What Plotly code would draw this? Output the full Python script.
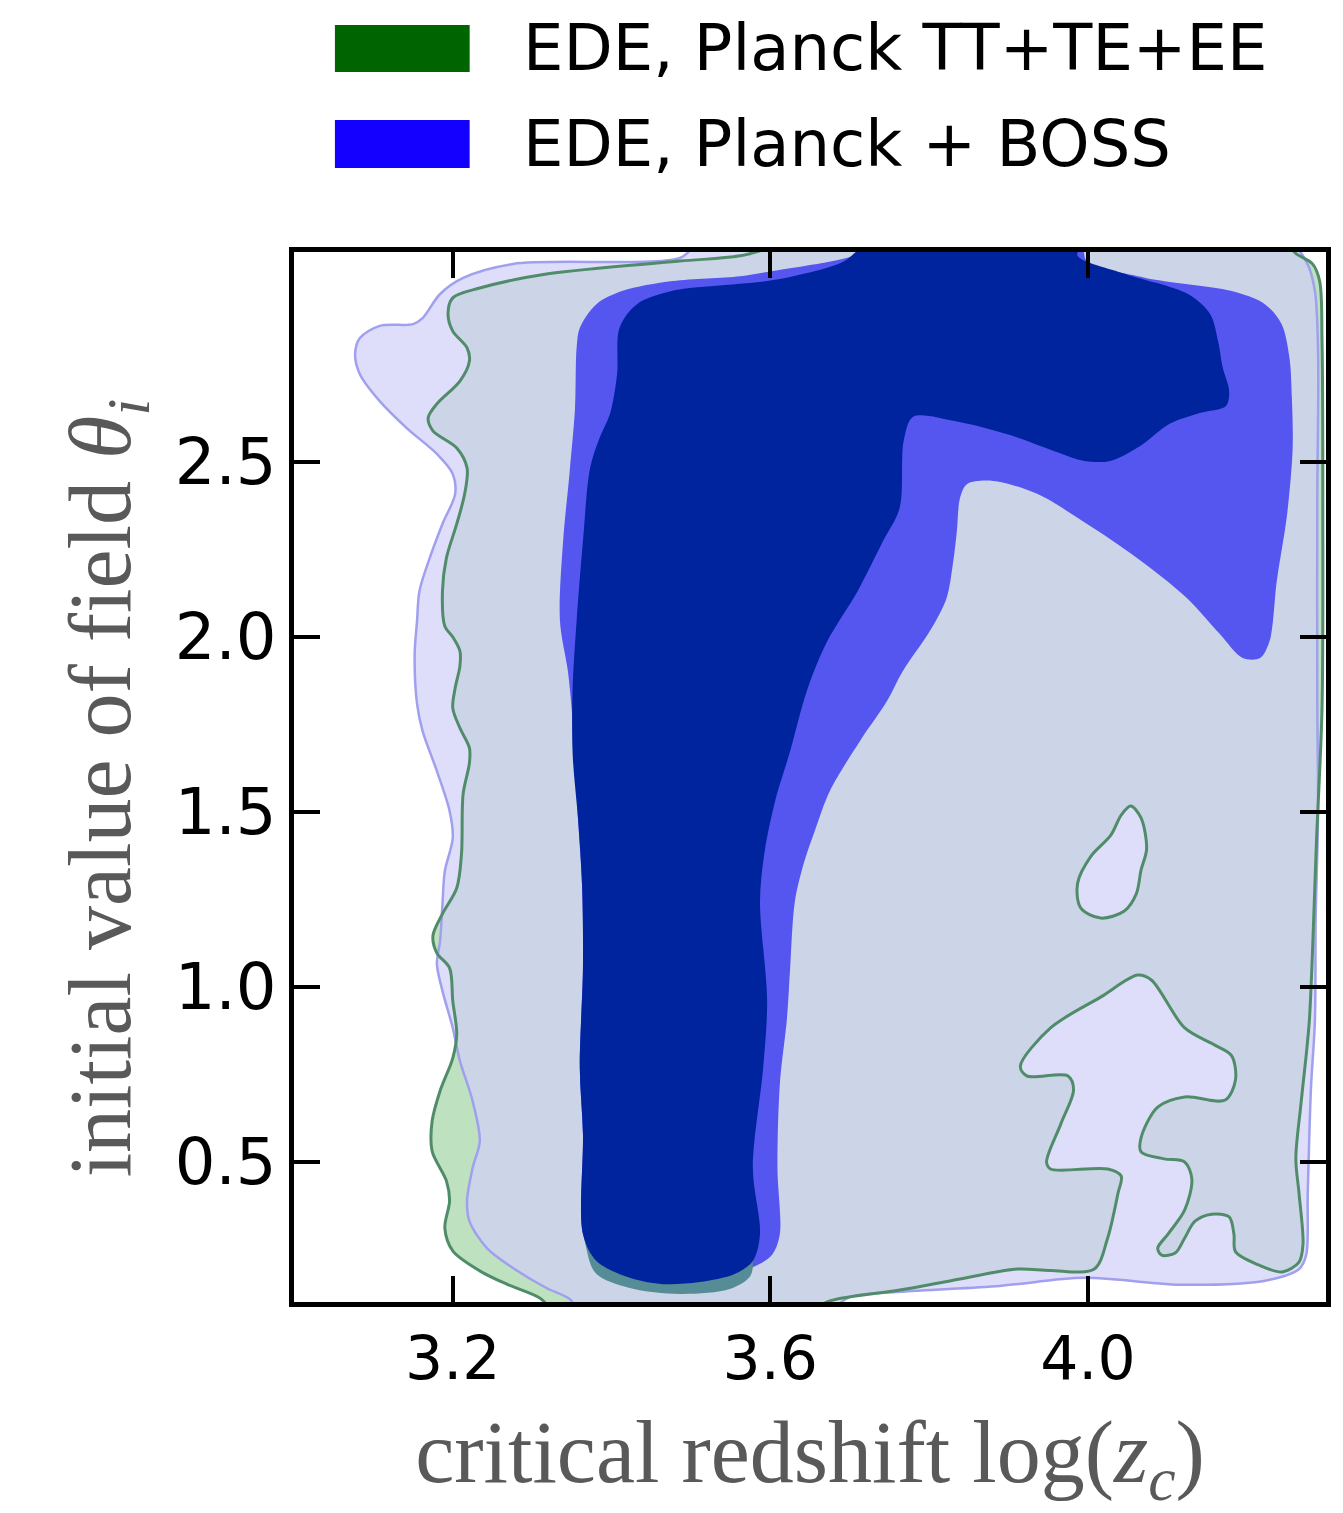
import plotly.graph_objects as go

# Marginalised 2D posterior contours for log(z_c) vs theta_i (EDE model)
# Contour vertices are in data units: (log z_c, theta_i)

# Planck TT+TE+EE, 95% region outer boundary
g2_x = [3.637, 3.562, 3.486, 3.318, 3.234, 3.200, 3.194, 3.200, 3.218, 3.221,
        3.209, 3.180, 3.169, 3.175, 3.205, 3.218, 3.215, 3.205, 3.192, 3.187,
        3.190, 3.200, 3.209, 3.209, 3.203, 3.200, 3.209, 3.221, 3.221, 3.213,
        3.211, 3.205, 3.187, 3.175, 3.180, 3.196, 3.200, 3.205, 3.200, 3.184,
        3.174, 3.174, 3.192, 3.196, 3.190, 3.200, 3.234, 3.268, 3.310, 3.335,
        3.637, 3.675, 3.763, 3.839, 3.911, 3.953, 4.008, 4.025, 4.038, 4.042,
        4.025, 3.953, 3.948, 3.966, 3.982, 3.975, 3.923, 3.915, 3.953, 4.016,
        4.063, 4.080, 4.122, 4.160, 4.181, 4.186, 4.173, 4.122, 4.088, 4.067,
        4.067, 4.096, 4.122, 4.131, 4.122, 4.101, 4.088, 4.093, 4.110, 4.122,
        4.135, 4.156, 4.178, 4.184, 4.186, 4.215, 4.245, 4.266, 4.271, 4.266,
        4.262, 4.268, 4.275, 4.279, 4.283, 4.288, 4.295, 4.296, 4.295, 4.292,
        4.283, 4.263, 4.248]
g2_y = [3.130, 3.089, 3.074, 3.037, 2.997, 2.969, 2.923, 2.874, 2.826, 2.789,
        2.731, 2.666, 2.626, 2.589, 2.540, 2.483, 2.409, 2.323, 2.226, 2.131,
        2.031, 2.000, 1.960, 1.917, 1.854, 1.797, 1.740, 1.683, 1.640, 1.551,
        1.380, 1.283, 1.209, 1.146, 1.097, 1.054, 0.960, 0.866, 0.797, 0.703,
        0.617, 0.531, 0.446, 0.389, 0.311, 0.246, 0.189, 0.151, 0.111, 0.060,
        0.060, 0.103, 0.134, 0.166, 0.194, 0.190, 0.194, 0.283, 0.411, 0.460,
        0.480, 0.480, 0.500, 0.609, 0.706, 0.746, 0.746, 0.774, 0.883, 0.971,
        1.034, 1.020, 0.883, 0.834, 0.804, 0.735, 0.677, 0.686, 0.657, 0.569,
        0.529, 0.509, 0.500, 0.451, 0.363, 0.294, 0.254, 0.234, 0.240, 0.283,
        0.331, 0.351, 0.343, 0.294, 0.244, 0.206, 0.186, 0.214, 0.264, 0.411,
        0.509, 0.657, 0.804, 0.903, 1.100, 1.417, 1.797, 2.369, 2.846, 3.017,
        3.066, 3.094, 3.123]

# Planck TT+TE+EE, isolated low-probability pocket inside the 95% region
g2_hole_x = [4.054, 4.067, 4.074, 4.067, 4.061, 4.046, 4.016, 3.991, 3.987,
             4.004, 4.029, 4.042]
g2_hole_y = [1.517, 1.483, 1.394, 1.334, 1.266, 1.217, 1.197, 1.226, 1.296,
             1.374, 1.434, 1.491]

# Planck TT+TE+EE, 68% region (lower lobe below the BOSS 68% region)
g1_x = [3.368, 3.369, 3.381, 3.423, 3.486, 3.549, 3.575, 3.578, 3.570]
g1_y = [0.400, 0.246, 0.180, 0.140, 0.123, 0.137, 0.175, 0.240, 0.400]

# Planck + BOSS, 95% region
b2_x = [4.254, 3.511, 3.486, 3.276, 3.213, 3.184, 3.162, 3.150, 3.108, 3.083,
        3.077, 3.083, 3.108, 3.142, 3.180, 3.200, 3.203, 3.187, 3.171, 3.158,
        3.155, 3.152, 3.155, 3.162, 3.180, 3.196, 3.200, 3.190, 3.187, 3.184,
        3.180, 3.187, 3.200, 3.209, 3.225, 3.234, 3.225, 3.218, 3.221, 3.243,
        3.276, 3.318, 3.347, 3.366, 3.662, 3.700, 3.763, 3.889, 3.995, 4.122,
        4.228, 4.266, 4.275, 4.277, 4.281, 4.286, 4.287, 4.290, 4.289, 4.289,
        4.290, 4.286, 4.276]
b2_y = [3.123, 3.123, 3.083, 3.066, 3.026, 2.980, 2.911, 2.894, 2.889, 2.854,
        2.809, 2.751, 2.674, 2.597, 2.523, 2.466, 2.409, 2.323, 2.226, 2.131,
        2.046, 1.951, 1.809, 1.731, 1.617, 1.503, 1.426, 1.331, 1.237, 1.131,
        1.066, 0.989, 0.883, 0.789, 0.674, 0.560, 0.483, 0.389, 0.331, 0.254,
        0.197, 0.140, 0.109, 0.060, 0.060, 0.114, 0.129, 0.146, 0.169, 0.149,
        0.163, 0.194, 0.234, 0.411, 0.709, 0.903, 1.197, 1.491, 1.817, 2.389,
        2.817, 2.989, 3.069]

# Planck + BOSS, 68% region
b1_x = [3.735, 3.700, 3.603, 3.562, 3.477, 3.414, 3.381, 3.360, 3.356, 3.354,
        3.347, 3.339, 3.335, 3.345, 3.351, 3.358, 3.363, 3.364, 3.360, 3.364,
        3.364, 3.381, 3.423, 3.465, 3.511, 3.555, 3.587, 3.603, 3.612, 3.609,
        3.612, 3.621, 3.625, 3.631, 3.643, 3.656, 3.675, 3.713, 3.747, 3.767,
        3.801, 3.822, 3.830, 3.835, 3.839, 3.848, 3.881, 3.936, 3.999, 4.062,
        4.125, 4.166, 4.195, 4.217, 4.229, 4.238, 4.251, 4.258, 4.257, 4.254,
        4.244, 4.223, 4.180, 4.073, 3.999, 3.990]
b1_y = [3.123, 3.086, 3.046, 3.031, 3.017, 2.989, 2.951, 2.883, 2.826, 2.654,
        2.466, 2.274, 2.046, 1.903, 1.760, 1.474, 1.283, 1.054, 0.769, 0.580,
        0.294, 0.217, 0.169, 0.151, 0.157, 0.180, 0.209, 0.237, 0.294, 0.483,
        0.723, 0.911, 1.054, 1.246, 1.360, 1.446, 1.560, 1.703, 1.817, 1.903,
        2.017, 2.111, 2.209, 2.303, 2.397, 2.437, 2.446, 2.409, 2.323, 2.226,
        2.111, 2.009, 1.940, 1.940, 1.989, 2.160, 2.351, 2.540, 2.683, 2.797,
        2.894, 2.951, 2.989, 3.026, 3.074, 3.123]

# Overlap of both 68% regions
core_x = [3.725, 3.990, 3.987, 4.047, 4.126, 4.154, 4.164, 4.170, 4.178, 4.174,
          4.141, 4.103, 4.066, 4.028, 3.996, 3.958, 3.902, 3.832, 3.780, 3.768,
          3.763, 3.742, 3.710, 3.672, 3.646, 3.625, 3.606, 3.593, 3.587, 3.596,
          3.591, 3.578, 3.587, 3.578, 3.555, 3.511, 3.465, 3.423, 3.381, 3.364,
          3.364, 3.360, 3.364, 3.363, 3.358, 3.351, 3.351, 3.356, 3.364, 3.373,
          3.385, 3.398, 3.407, 3.410, 3.432, 3.477, 3.562, 3.610, 3.690]
core_y = [3.123, 3.123, 3.089, 3.037, 2.980, 2.923, 2.846, 2.769, 2.703, 2.660,
          2.640, 2.609, 2.546, 2.503, 2.503, 2.531, 2.577, 2.617, 2.629, 2.560,
          2.369, 2.274, 2.131, 1.989, 1.846, 1.674, 1.531, 1.389, 1.246, 0.960,
          0.769, 0.483, 0.294, 0.217, 0.180, 0.157, 0.151, 0.169, 0.217, 0.294,
          0.580, 0.769, 1.054, 1.283, 1.474, 1.666, 1.854, 2.046, 2.274, 2.483,
          2.569, 2.637, 2.751, 2.883, 2.951, 2.989, 3.009, 3.022, 3.070]

legend_labels = ["EDE, Planck TT+TE+EE", "EDE, Planck + BOSS"]
legend_colors = ["rgb(0,100,0)", "rgb(20,0,255)"]

x_ticks = [3.2, 3.6, 4.0]
y_ticks = [0.5, 1.0, 1.5, 2.0, 2.5]
x_range = [3.0, 4.3]
y_range = [0.1, 3.1]

W, H = 1343, 1513
ML, MR, MT, MB = 294, 15, 252, 211
PW, PH = W - ML - MR, H - MT - MB


def px(xp):
    return (xp - ML) / PW


def py(yp):
    return (H - MB - yp) / PH


def closed(xs, ys):
    return list(xs) + [xs[0]], list(ys) + [ys[0]]


def region(xs, ys, fill, line_color=None, line_width=0, smooth=0.9):
    cx, cy = closed(xs, ys)
    return go.Scatter(
        x=cx, y=cy, mode="lines", fill="toself", fillcolor=fill,
        line=dict(color=line_color or fill, width=line_width,
                  shape="spline", smoothing=smooth),
        hoverinfo="skip", showlegend=False)


def outline(xs, ys, color, width, smooth=0.9):
    cx, cy = closed(xs, ys)
    return go.Scatter(
        x=cx, y=cy, mode="lines",
        line=dict(color=color, width=width, shape="spline", smoothing=smooth),
        hoverinfo="skip", showlegend=False)


fig = go.Figure()

# 95% regions: Planck underneath, Planck+BOSS translucent on top
fig.add_trace(region(g2_x, g2_y, "rgb(190,225,192)"))
fig.add_trace(region(g2_hole_x, g2_hole_y, "white"))
fig.add_trace(region(b2_x, b2_y, "rgba(208,208,248,0.7)",
                     line_color="rgb(160,160,238)", line_width=2.5))
fig.add_trace(outline(g2_x, g2_y, "rgb(80,140,105)", 3))
fig.add_trace(outline(g2_hole_x, g2_hole_y, "rgb(80,140,105)", 3))

# 68% regions
fig.add_trace(region(b1_x, b1_y, "rgb(85,85,240)"))
fig.add_trace(region(g1_x, g1_y, "rgb(85,140,150)"))
fig.add_trace(region(core_x, core_y, "rgb(0,35,158)"))

# legend swatches and labels
shapes = []
annotations = []
rows = [(25, 72), (120, 168)]
for (top, bot), lab, col in zip(rows, legend_labels, legend_colors):
    shapes.append(dict(type="rect", xref="paper", yref="paper",
                       x0=px(335), x1=px(470), y0=py(bot), y1=py(top),
                       fillcolor=col, line=dict(width=0)))
    annotations.append(dict(xref="paper", yref="paper",
                            x=px(521), y=py((top + bot) / 2),
                            xanchor="left", yanchor="middle", showarrow=False,
                            text=lab,
                            font=dict(family="DejaVu Sans", size=64,
                                      color="black")))

# rotated y-axis title
annotations.append(dict(xref="paper", yref="paper",
                        x=px(106), y=py(788), textangle=-90,
                        xanchor="center", yanchor="middle", showarrow=False,
                        text="initial value of field <i>θ<sub>i</sub></i>",
                        font=dict(family="Liberation Serif", size=88,
                                  color="#595959")))

axis_common = dict(
    showline=True, linecolor="black", linewidth=4.5, mirror="ticks",
    ticks="inside", ticklen=26, tickwidth=4, tickcolor="black",
    showgrid=False, zeroline=False,
)

fig.update_layout(
    width=W, height=H,
    margin=dict(l=ML, r=MR, t=MT, b=MB),
    paper_bgcolor="white", plot_bgcolor="white",
    shapes=shapes, annotations=annotations,
    xaxis=dict(range=x_range, tickvals=x_ticks,
               ticktext=[f"{v:.1f}" for v in x_ticks],
               tickfont=dict(family="DejaVu Sans", size=60, color="black"),
               title=dict(text="critical redshift log(<i>z<sub>c</sub></i>)",
                          font=dict(family="Liberation Serif", size=88,
                                    color="#595959"),
                          standoff=30),
               **axis_common),
    yaxis=dict(range=y_range, tickvals=y_ticks,
               ticktext=[f"{v:.1f}" for v in y_ticks],
               tickfont=dict(family="DejaVu Sans", size=64, color="black"),
               **axis_common),
)

fig.write_html("out.html")
